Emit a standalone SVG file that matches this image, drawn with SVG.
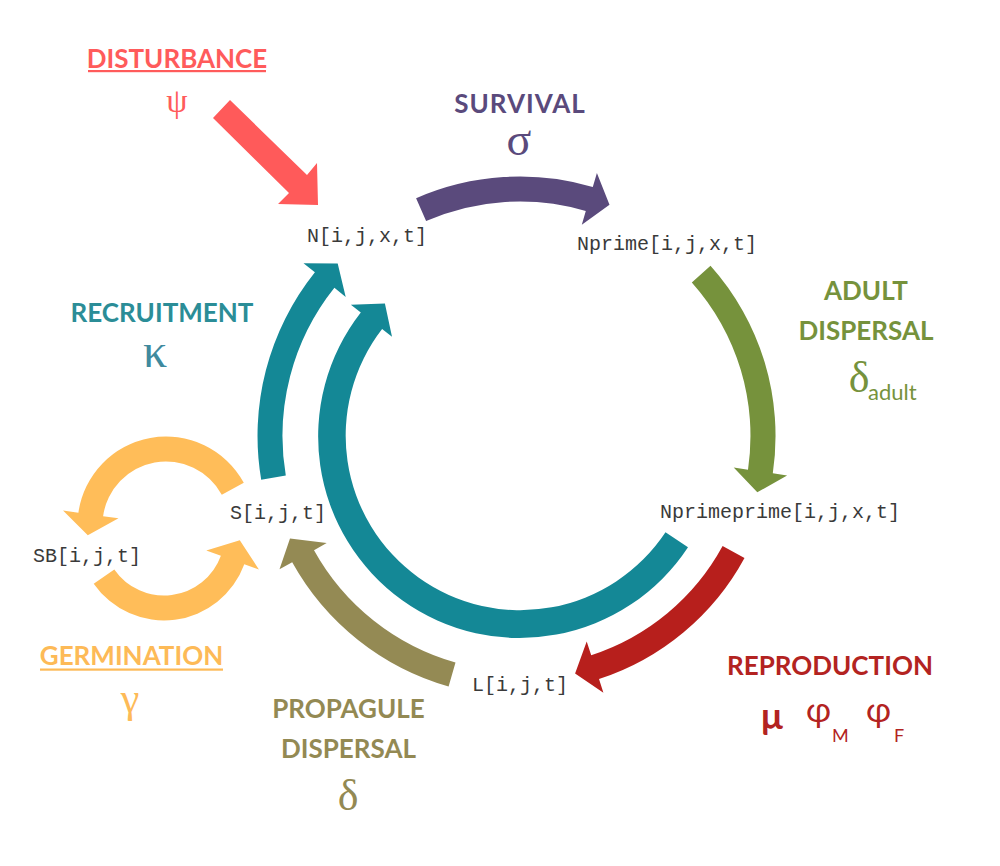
<svg xmlns="http://www.w3.org/2000/svg" width="1000" height="866" viewBox="0 0 1000 866">
<style>
.node{font-family:"Liberation Mono","Courier New",monospace;font-size:20px;fill:#3a3a3a}
.head{font-family:Lato,"Liberation Sans",sans-serif;font-weight:700;font-size:26px;text-anchor:middle}
.greek{font-family:"Liberation Serif","DejaVu Serif",serif;text-anchor:middle}
.sans{font-family:Lato,"Open Sans",sans-serif}
</style>
<rect width="1000" height="866" fill="#fff"/>
<g id="connectors">
<polygon id="disturbance-arrow" fill="#FF5A5A" points="230,100 307,175 317,163 318,205 278,204 289,193 213,118"/>
<path id="survival-arrow" fill="#5A4A7C" d="M416.1,198.2 A259.5,259.5 0 0 1 592.8,186.9 L596.9,173.0 L609.5,204.8 L581.8,224.8 L585.8,210.9 A234.5,234.5 0 0 0 426.1,221.1 Z"/>
<path id="adult-dispersal-arrow" fill="#76923C" d="M710.5,265.7 A255.5,255.5 0 0 1 772.8,473.3 L787.1,475.4 L757.3,492.3 L733.7,467.6 L748.0,469.7 A230.5,230.5 0 0 0 691.8,282.4 Z"/>
<path id="reproduction-arrow" fill="#B71F1C" d="M744.5,557.9 A255.5,255.5 0 0 1 599.0,679.0 L603.4,692.8 L575.1,673.6 L586.7,641.4 L591.2,655.2 A230.5,230.5 0 0 0 722.6,546.0 Z"/>
<path id="propagule-arrow" fill="#948A54" d="M448.6,686.5 A260.5,260.5 0 0 1 292.2,562.3 L279.5,569.3 L290.0,538.5 L326.7,543.1 L314.0,550.2 A235.5,235.5 0 0 0 455.5,662.5 Z"/>
<path id="recruitment-arrow" fill="#148896" d="M261.2,479.8 A262.5,262.5 0 0 1 314.9,272.2 L303.5,263.2 L337.7,263.6 L345.7,296.9 L334.4,287.8 A237.5,237.5 0 0 0 285.8,475.6 Z"/>
<path id="inner-teal-arrow" fill="#148896" d="M688.0,547.2 A201.5,201.5 0 1 1 360.8,312.5 L350.9,304.8 L384.9,303.4 L392.0,336.7 L382.1,329.0 A174.5,174.5 0 1 0 665.5,532.3 Z"/>
<path id="seedbank-in-arrow" fill="#FFBD59" d="M243.8,482.8 A88.5,88.5 0 0 0 78.4,512.7 L63.0,510.5 L87.8,535.2 L118.5,518.3 L103.1,516.2 A63.5,63.5 0 0 1 221.8,494.7 Z"/>
<path id="germination-arrow" fill="#FFBD59" d="M93.7,583.7 A85.5,85.5 0 0 0 244.3,564.2 L258.9,569.5 L239.8,540.3 L206.3,550.4 L220.9,555.7 A60.5,60.5 0 0 1 114.3,569.4 Z"/>
</g>
<g id="node-N"><text class="node" x="307" y="242">N[i,j,x,t]</text></g>
<g id="node-Nprime"><text class="node" x="577" y="250">Nprime[i,j,x,t]</text></g>
<g id="node-Nprimeprime"><text class="node" x="660" y="518">Nprimeprime[i,j,x,t]</text></g>
<g id="node-L"><text class="node" x="472" y="691">L[i,j,t]</text></g>
<g id="node-S"><text class="node" x="230" y="519">S[i,j,t]</text></g>
<g id="node-SB"><text class="node" x="33" y="562">SB[i,j,t]</text></g>
<g id="label-disturbance">
<text class="head" x="177" y="68" fill="#FF5B5B">DISTURBANCE</text>
<rect x="88" y="70" width="178" height="2.2" fill="#FF5B5B"/>
<text class="greek" x="177" y="112" font-size="34" fill="#FF5B5B">ψ</text>
</g>
<g id="label-survival">
<text class="head" x="520" y="113" fill="#5A4A7C" letter-spacing="1">SURVIVAL</text>
<text class="greek" x="519" y="155" font-size="46" fill="#5A4A7C">σ</text>
</g>
<g id="label-adult-dispersal" fill="#76923C">
<text class="head" x="866" y="300">ADULT</text>
<text class="head" x="866" y="340">DISPERSAL</text>
<text class="greek" x="859" y="392" font-size="44">δ</text>
<text class="sans" x="868" y="400" font-size="22">adult</text>
</g>
<g id="label-recruitment">
<text class="head" x="162" y="322" fill="#2B8D97">RECRUITMENT</text>
<text class="greek" x="155" y="367" font-size="48" fill="#3F8A9E">κ</text>
</g>
<g id="label-germination" fill="#FDBA57">
<text class="head" x="131.5" y="665">GERMINATION</text>
<rect x="40" y="668.5" width="183" height="2.2"/>
<text class="greek" x="130" y="712" font-size="42">γ</text>
</g>
<g id="label-propagule-dispersal" fill="#938953">
<text class="head" x="348.5" y="718">PROPAGULE</text>
<text class="head" x="348.5" y="758">DISPERSAL</text>
<text class="greek" x="348" y="810" font-size="44">δ</text>
</g>
<g id="label-reproduction" fill="#B32321">
<text class="head" x="830" y="675">REPRODUCTION</text>
<text class="sans" x="761" y="729" font-size="36" font-weight="700">μ</text>
<text class="sans" x="806" y="722" font-size="34">φ</text>
<text class="sans" x="832" y="742" font-size="18">M</text>
<text class="sans" x="866" y="722" font-size="34">φ</text>
<text class="sans" x="894" y="742" font-size="18">F</text>
</g>
</svg>
